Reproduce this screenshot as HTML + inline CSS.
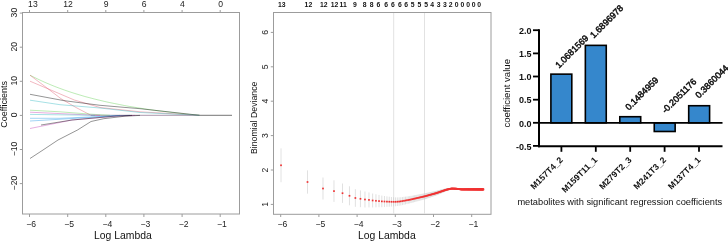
<!DOCTYPE html>
<html><head><meta charset="utf-8"><style>
html,body{margin:0;padding:0;background:#fff;width:728px;height:241px;overflow:hidden}
svg{display:block;will-change:transform}
text{font-family:"Liberation Sans",sans-serif}
</style></head><body>
<svg width="728" height="241" viewBox="0 0 728 241">
<rect width="728" height="241" fill="#fff"/>
<rect x="22.5" y="12.5" width="217" height="201.5" fill="none" stroke="#9c9c9c" stroke-width="1"/>
<line x1="29.5" y1="214" x2="29.5" y2="217" stroke="#9c9c9c" stroke-width="1"/>
<text x="31.1" y="226.6" font-family="Liberation Sans, sans-serif" font-size="8.6" text-anchor="middle" fill="#222">&#8722;6</text>
<line x1="67.7" y1="214" x2="67.7" y2="217" stroke="#9c9c9c" stroke-width="1"/>
<text x="69.2" y="226.6" font-family="Liberation Sans, sans-serif" font-size="8.6" text-anchor="middle" fill="#222">&#8722;5</text>
<line x1="105.8" y1="214" x2="105.8" y2="217" stroke="#9c9c9c" stroke-width="1"/>
<text x="107.4" y="226.6" font-family="Liberation Sans, sans-serif" font-size="8.6" text-anchor="middle" fill="#222">&#8722;4</text>
<line x1="143.9" y1="214" x2="143.9" y2="217" stroke="#9c9c9c" stroke-width="1"/>
<text x="145.5" y="226.6" font-family="Liberation Sans, sans-serif" font-size="8.6" text-anchor="middle" fill="#222">&#8722;3</text>
<line x1="182.1" y1="214" x2="182.1" y2="217" stroke="#9c9c9c" stroke-width="1"/>
<text x="183.7" y="226.6" font-family="Liberation Sans, sans-serif" font-size="8.6" text-anchor="middle" fill="#222">&#8722;2</text>
<line x1="220.2" y1="214" x2="220.2" y2="217" stroke="#9c9c9c" stroke-width="1"/>
<text x="221.8" y="226.6" font-family="Liberation Sans, sans-serif" font-size="8.6" text-anchor="middle" fill="#222">&#8722;1</text>
<line x1="29.5" y1="10" x2="29.5" y2="12.5" stroke="#9c9c9c" stroke-width="1"/>
<text x="32.9" y="6.8" font-family="Liberation Sans, sans-serif" font-size="8.6" text-anchor="middle" fill="#222">13</text>
<line x1="67.7" y1="10" x2="67.7" y2="12.5" stroke="#9c9c9c" stroke-width="1"/>
<text x="68.0" y="6.8" font-family="Liberation Sans, sans-serif" font-size="8.6" text-anchor="middle" fill="#222">12</text>
<line x1="105.8" y1="10" x2="105.8" y2="12.5" stroke="#9c9c9c" stroke-width="1"/>
<text x="106.1" y="6.8" font-family="Liberation Sans, sans-serif" font-size="8.6" text-anchor="middle" fill="#222">9</text>
<line x1="143.9" y1="10" x2="143.9" y2="12.5" stroke="#9c9c9c" stroke-width="1"/>
<text x="144.2" y="6.8" font-family="Liberation Sans, sans-serif" font-size="8.6" text-anchor="middle" fill="#222">6</text>
<line x1="182.1" y1="10" x2="182.1" y2="12.5" stroke="#9c9c9c" stroke-width="1"/>
<text x="182.4" y="6.8" font-family="Liberation Sans, sans-serif" font-size="8.6" text-anchor="middle" fill="#222">4</text>
<line x1="220.2" y1="10" x2="220.2" y2="12.5" stroke="#9c9c9c" stroke-width="1"/>
<text x="220.6" y="6.8" font-family="Liberation Sans, sans-serif" font-size="8.6" text-anchor="middle" fill="#222">0</text>
<line x1="19.8" y1="13.1" x2="22.5" y2="13.1" stroke="#9c9c9c" stroke-width="1"/>
<text transform="translate(17.0 12.6) rotate(-90)" font-family="Liberation Sans, sans-serif" font-size="8.6" text-anchor="middle" fill="#222">30</text>
<line x1="19.8" y1="47.2" x2="22.5" y2="47.2" stroke="#9c9c9c" stroke-width="1"/>
<text transform="translate(17.0 46.7) rotate(-90)" font-family="Liberation Sans, sans-serif" font-size="8.6" text-anchor="middle" fill="#222">20</text>
<line x1="19.8" y1="81.3" x2="22.5" y2="81.3" stroke="#9c9c9c" stroke-width="1"/>
<text transform="translate(17.0 80.8) rotate(-90)" font-family="Liberation Sans, sans-serif" font-size="8.6" text-anchor="middle" fill="#222">10</text>
<line x1="19.8" y1="115.4" x2="22.5" y2="115.4" stroke="#9c9c9c" stroke-width="1"/>
<text transform="translate(17.0 114.9) rotate(-90)" font-family="Liberation Sans, sans-serif" font-size="8.6" text-anchor="middle" fill="#222">0</text>
<line x1="19.8" y1="149.5" x2="22.5" y2="149.5" stroke="#9c9c9c" stroke-width="1"/>
<text transform="translate(17.0 149.0) rotate(-90)" font-family="Liberation Sans, sans-serif" font-size="8.6" text-anchor="middle" fill="#222">&#8722;10</text>
<line x1="19.8" y1="183.6" x2="22.5" y2="183.6" stroke="#9c9c9c" stroke-width="1"/>
<text transform="translate(17.0 183.1) rotate(-90)" font-family="Liberation Sans, sans-serif" font-size="8.6" text-anchor="middle" fill="#222">&#8722;20</text>
<text transform="translate(7.2 104.4) rotate(-90) scale(0.92 1)" font-family="Liberation Sans, sans-serif" font-size="9.8" text-anchor="middle" fill="#111">Coefficients</text>
<text x="122.85" y="238.6" font-family="Liberation Sans, sans-serif" font-size="10.4" text-anchor="middle" fill="#111">Log Lambda</text>
<polyline points="91.0,115.3 199.6,115.3" fill="none" stroke="#8a6a8a" stroke-width="0.7" stroke-linejoin="round"/>
<polyline points="30.0,75.2 35.0,77.7 40.0,80.1 45.0,82.4 50.0,84.5 54.9,86.5 59.9,88.4 64.9,90.2 69.9,91.9 74.9,93.5 79.9,95.0 84.9,96.5 89.9,97.8 94.8,99.1 99.8,100.3 104.8,101.5 109.8,102.6 114.8,103.6 119.8,104.6 124.8,105.6 129.8,106.5 134.8,107.3 139.7,108.1 144.7,108.9 149.7,109.6 154.7,110.3 159.7,111.0 164.7,111.6 169.7,112.2 174.7,112.8 179.6,113.3 184.6,113.9 189.6,114.4 194.6,114.8 199.6,115.3" fill="none" stroke="#61D04F" stroke-width="0.42" stroke-linejoin="round"/>
<polyline points="30.0,75.2 45.0,86.5 61.0,98.7 76.0,107.5 91.0,115.3" fill="none" stroke="#DF536B" stroke-width="0.42" stroke-linejoin="round"/>
<polyline points="30.0,81.2 52.0,90.5 74.3,100.0 100.0,107.5 140.0,111.8 199.6,115.3" fill="none" stroke="#DF536B" stroke-width="0.42" stroke-linejoin="round"/>
<polyline points="30.0,94.3 63.7,100.6 100.0,105.3 140.0,108.7 170.0,112.0 199.6,115.3" fill="none" stroke="#000000" stroke-width="0.42" stroke-linejoin="round"/>
<polyline points="30.0,100.2 60.0,104.7 100.0,108.0 140.0,112.5 199.6,115.3" fill="none" stroke="#2cb8c0" stroke-width="0.42" stroke-linejoin="round"/>
<polyline points="30.0,110.2 60.0,111.8 91.0,114.2 110.0,115.3" fill="none" stroke="#61D04F" stroke-width="0.42" stroke-linejoin="round"/>
<polyline points="30.0,112.2 90.0,115.0 100.0,115.3" fill="none" stroke="#c23cb4" stroke-width="0.42" stroke-linejoin="round"/>
<polyline points="30.0,114.4 95.0,115.3" fill="none" stroke="#2cb8c0" stroke-width="0.42" stroke-linejoin="round"/>
<polyline points="30.0,118.3 60.0,118.3 116.0,115.8 130.0,115.3" fill="none" stroke="#2297E6" stroke-width="0.42" stroke-linejoin="round"/>
<polyline points="30.0,121.0 90.0,117.5 120.0,115.4" fill="none" stroke="#2297E6" stroke-width="0.42" stroke-linejoin="round"/>
<polyline points="30.0,128.5 72.0,120.0 116.0,116.2 135.0,115.4" fill="none" stroke="#c23cb4" stroke-width="0.42" stroke-linejoin="round"/>
<polyline points="41.0,125.0 72.0,120.0 116.0,116.0 132.0,115.4" fill="none" stroke="#000000" stroke-width="0.42" stroke-linejoin="round"/>
<polyline points="30.0,158.5 43.0,150.0 58.0,140.0 77.5,130.0 91.0,121.5 103.7,118.7 125.0,116.2 140.0,115.4" fill="none" stroke="#000000" stroke-width="0.42" stroke-linejoin="round"/>
<line x1="199.6" y1="115.3" x2="232" y2="115.3" stroke="#666" stroke-width="0.9"/>
<rect x="273.5" y="12.5" width="217.5" height="201.8" fill="none" stroke="#9c9c9c" stroke-width="1"/>
<line x1="280.7" y1="214.3" x2="280.7" y2="217" stroke="#9c9c9c" stroke-width="1"/>
<text x="282.3" y="227.3" font-family="Liberation Sans, sans-serif" font-size="8.6" text-anchor="middle" fill="#222">&#8722;6</text>
<line x1="318.9" y1="214.3" x2="318.9" y2="217" stroke="#9c9c9c" stroke-width="1"/>
<text x="320.5" y="227.3" font-family="Liberation Sans, sans-serif" font-size="8.6" text-anchor="middle" fill="#222">&#8722;5</text>
<line x1="357.1" y1="214.3" x2="357.1" y2="217" stroke="#9c9c9c" stroke-width="1"/>
<text x="358.7" y="227.3" font-family="Liberation Sans, sans-serif" font-size="8.6" text-anchor="middle" fill="#222">&#8722;4</text>
<line x1="395.3" y1="214.3" x2="395.3" y2="217" stroke="#9c9c9c" stroke-width="1"/>
<text x="396.9" y="227.3" font-family="Liberation Sans, sans-serif" font-size="8.6" text-anchor="middle" fill="#222">&#8722;3</text>
<line x1="433.5" y1="214.3" x2="433.5" y2="217" stroke="#9c9c9c" stroke-width="1"/>
<text x="435.1" y="227.3" font-family="Liberation Sans, sans-serif" font-size="8.6" text-anchor="middle" fill="#222">&#8722;2</text>
<line x1="471.7" y1="214.3" x2="471.7" y2="217" stroke="#9c9c9c" stroke-width="1"/>
<text x="473.3" y="227.3" font-family="Liberation Sans, sans-serif" font-size="8.6" text-anchor="middle" fill="#222">&#8722;1</text>
<line x1="270.8" y1="204.4" x2="273.5" y2="204.4" stroke="#9c9c9c" stroke-width="1"/>
<text transform="translate(268.3 204.4) rotate(-90)" font-family="Liberation Sans, sans-serif" font-size="8.6" text-anchor="middle" fill="#222">1</text>
<line x1="270.8" y1="170.0" x2="273.5" y2="170.0" stroke="#9c9c9c" stroke-width="1"/>
<text transform="translate(268.3 170.0) rotate(-90)" font-family="Liberation Sans, sans-serif" font-size="8.6" text-anchor="middle" fill="#222">2</text>
<line x1="270.8" y1="135.6" x2="273.5" y2="135.6" stroke="#9c9c9c" stroke-width="1"/>
<text transform="translate(268.3 135.6) rotate(-90)" font-family="Liberation Sans, sans-serif" font-size="8.6" text-anchor="middle" fill="#222">3</text>
<line x1="270.8" y1="101.2" x2="273.5" y2="101.2" stroke="#9c9c9c" stroke-width="1"/>
<text transform="translate(268.3 101.2) rotate(-90)" font-family="Liberation Sans, sans-serif" font-size="8.6" text-anchor="middle" fill="#222">4</text>
<line x1="270.8" y1="66.8" x2="273.5" y2="66.8" stroke="#9c9c9c" stroke-width="1"/>
<text transform="translate(268.3 66.8) rotate(-90)" font-family="Liberation Sans, sans-serif" font-size="8.6" text-anchor="middle" fill="#222">5</text>
<line x1="270.8" y1="32.4" x2="273.5" y2="32.4" stroke="#9c9c9c" stroke-width="1"/>
<text transform="translate(268.3 32.4) rotate(-90)" font-family="Liberation Sans, sans-serif" font-size="8.6" text-anchor="middle" fill="#222">6</text>
<text transform="translate(256.6 117.8) rotate(-90)" font-family="Liberation Sans, sans-serif" font-size="8.75" text-anchor="middle" fill="#111">Binomial Deviance</text>
<text x="386.8" y="238.5" font-family="Liberation Sans, sans-serif" font-size="10.4" text-anchor="middle" fill="#111">Log Lambda</text>
<text x="281.8" y="7.0" font-family="Liberation Sans, sans-serif" font-size="6.8" font-weight="bold" text-anchor="middle" fill="#111">13</text>
<text x="308.4" y="7.0" font-family="Liberation Sans, sans-serif" font-size="6.8" font-weight="bold" text-anchor="middle" fill="#111">12</text>
<text x="323.8" y="7.0" font-family="Liberation Sans, sans-serif" font-size="6.8" font-weight="bold" text-anchor="middle" fill="#111">12</text>
<text x="334.6" y="7.0" font-family="Liberation Sans, sans-serif" font-size="6.8" font-weight="bold" text-anchor="middle" fill="#111">12</text>
<text x="343.2" y="7.0" font-family="Liberation Sans, sans-serif" font-size="6.8" font-weight="bold" text-anchor="middle" fill="#111">11</text>
<text x="354.8" y="7.0" font-family="Liberation Sans, sans-serif" font-size="6.8" font-weight="bold" text-anchor="middle" fill="#111">9</text>
<text x="364.6" y="7.0" font-family="Liberation Sans, sans-serif" font-size="6.8" font-weight="bold" text-anchor="middle" fill="#111">8</text>
<text x="371.6" y="7.0" font-family="Liberation Sans, sans-serif" font-size="6.8" font-weight="bold" text-anchor="middle" fill="#111">8</text>
<text x="378.5" y="7.0" font-family="Liberation Sans, sans-serif" font-size="6.8" font-weight="bold" text-anchor="middle" fill="#111">6</text>
<text x="386.2" y="7.0" font-family="Liberation Sans, sans-serif" font-size="6.8" font-weight="bold" text-anchor="middle" fill="#111">6</text>
<text x="392.8" y="7.0" font-family="Liberation Sans, sans-serif" font-size="6.8" font-weight="bold" text-anchor="middle" fill="#111">6</text>
<text x="399.8" y="7.0" font-family="Liberation Sans, sans-serif" font-size="6.8" font-weight="bold" text-anchor="middle" fill="#111">6</text>
<text x="406.1" y="7.0" font-family="Liberation Sans, sans-serif" font-size="6.8" font-weight="bold" text-anchor="middle" fill="#111">6</text>
<text x="412.7" y="7.0" font-family="Liberation Sans, sans-serif" font-size="6.8" font-weight="bold" text-anchor="middle" fill="#111">5</text>
<text x="419.4" y="7.0" font-family="Liberation Sans, sans-serif" font-size="6.8" font-weight="bold" text-anchor="middle" fill="#111">5</text>
<text x="426.1" y="7.0" font-family="Liberation Sans, sans-serif" font-size="6.8" font-weight="bold" text-anchor="middle" fill="#111">5</text>
<text x="432.2" y="7.0" font-family="Liberation Sans, sans-serif" font-size="6.8" font-weight="bold" text-anchor="middle" fill="#111">4</text>
<text x="438.6" y="7.0" font-family="Liberation Sans, sans-serif" font-size="6.8" font-weight="bold" text-anchor="middle" fill="#111">3</text>
<text x="444.8" y="7.0" font-family="Liberation Sans, sans-serif" font-size="6.8" font-weight="bold" text-anchor="middle" fill="#111">3</text>
<text x="450.6" y="7.0" font-family="Liberation Sans, sans-serif" font-size="6.8" font-weight="bold" text-anchor="middle" fill="#111">2</text>
<text x="456.7" y="7.0" font-family="Liberation Sans, sans-serif" font-size="6.8" font-weight="bold" text-anchor="middle" fill="#111">0</text>
<text x="462.4" y="7.0" font-family="Liberation Sans, sans-serif" font-size="6.8" font-weight="bold" text-anchor="middle" fill="#111">0</text>
<text x="468.2" y="7.0" font-family="Liberation Sans, sans-serif" font-size="6.8" font-weight="bold" text-anchor="middle" fill="#111">0</text>
<text x="473.6" y="7.0" font-family="Liberation Sans, sans-serif" font-size="6.8" font-weight="bold" text-anchor="middle" fill="#111">0</text>
<text x="479.1" y="7.0" font-family="Liberation Sans, sans-serif" font-size="6.8" font-weight="bold" text-anchor="middle" fill="#111">0</text>
<line x1="393.7" y1="13" x2="393.7" y2="214" stroke="#e2e2e2" stroke-width="1"/>
<line x1="424.5" y1="13" x2="424.5" y2="214" stroke="#e2e2e2" stroke-width="1"/>
<line x1="281.03" y1="148.40" x2="281.03" y2="182.20" stroke="#cdcdcd" stroke-width="0.6"/>
<line x1="307.50" y1="170.35" x2="307.50" y2="193.67" stroke="#cdcdcd" stroke-width="0.6"/>
<line x1="322.99" y1="177.51" x2="322.99" y2="199.52" stroke="#cdcdcd" stroke-width="0.6"/>
<line x1="333.98" y1="180.30" x2="333.98" y2="201.90" stroke="#cdcdcd" stroke-width="0.6"/>
<line x1="342.51" y1="183.50" x2="342.51" y2="202.90" stroke="#cdcdcd" stroke-width="0.6"/>
<line x1="349.47" y1="186.29" x2="349.47" y2="205.29" stroke="#cdcdcd" stroke-width="0.6"/>
<line x1="355.36" y1="189.18" x2="355.36" y2="206.79" stroke="#cdcdcd" stroke-width="0.6"/>
<line x1="360.46" y1="190.42" x2="360.46" y2="207.17" stroke="#cdcdcd" stroke-width="0.6"/>
<line x1="364.96" y1="191.49" x2="364.96" y2="207.50" stroke="#cdcdcd" stroke-width="0.6"/>
<line x1="368.98" y1="192.43" x2="368.98" y2="207.37" stroke="#cdcdcd" stroke-width="0.6"/>
<line x1="372.63" y1="193.50" x2="372.63" y2="207.47" stroke="#cdcdcd" stroke-width="0.6"/>
<line x1="375.95" y1="194.25" x2="375.95" y2="207.33" stroke="#cdcdcd" stroke-width="0.6"/>
<line x1="379.01" y1="194.95" x2="379.01" y2="207.21" stroke="#cdcdcd" stroke-width="0.6"/>
<line x1="381.84" y1="195.58" x2="381.84" y2="207.19" stroke="#cdcdcd" stroke-width="0.6"/>
<line x1="384.47" y1="196.00" x2="384.47" y2="207.04" stroke="#cdcdcd" stroke-width="0.6"/>
<line x1="386.94" y1="196.37" x2="386.94" y2="206.89" stroke="#cdcdcd" stroke-width="0.6"/>
<line x1="389.25" y1="196.70" x2="389.25" y2="206.72" stroke="#cdcdcd" stroke-width="0.6"/>
<line x1="391.44" y1="197.01" x2="391.44" y2="206.56" stroke="#cdcdcd" stroke-width="0.6"/>
<line x1="393.50" y1="197.25" x2="393.50" y2="206.35" stroke="#cdcdcd" stroke-width="0.6"/>
<line x1="395.46" y1="197.38" x2="395.46" y2="206.22" stroke="#cdcdcd" stroke-width="0.6"/>
<line x1="397.33" y1="197.39" x2="397.33" y2="206.01" stroke="#cdcdcd" stroke-width="0.6"/>
<line x1="399.10" y1="197.35" x2="399.10" y2="205.78" stroke="#cdcdcd" stroke-width="0.6"/>
<line x1="400.80" y1="197.24" x2="400.80" y2="205.47" stroke="#cdcdcd" stroke-width="0.6"/>
<line x1="402.43" y1="197.04" x2="402.43" y2="205.09" stroke="#cdcdcd" stroke-width="0.6"/>
<line x1="403.99" y1="196.84" x2="403.99" y2="204.72" stroke="#cdcdcd" stroke-width="0.6"/>
<line x1="405.49" y1="196.66" x2="405.49" y2="204.37" stroke="#cdcdcd" stroke-width="0.6"/>
<line x1="406.93" y1="196.48" x2="406.93" y2="204.03" stroke="#cdcdcd" stroke-width="0.6"/>
<line x1="408.32" y1="196.31" x2="408.32" y2="203.70" stroke="#cdcdcd" stroke-width="0.6"/>
<line x1="409.66" y1="196.14" x2="409.66" y2="203.38" stroke="#cdcdcd" stroke-width="0.6"/>
<line x1="410.95" y1="195.92" x2="410.95" y2="203.04" stroke="#cdcdcd" stroke-width="0.6"/>
<line x1="412.20" y1="195.68" x2="412.20" y2="202.71" stroke="#cdcdcd" stroke-width="0.6"/>
<line x1="413.42" y1="195.45" x2="413.42" y2="202.38" stroke="#cdcdcd" stroke-width="0.6"/>
<line x1="414.59" y1="195.23" x2="414.59" y2="202.06" stroke="#cdcdcd" stroke-width="0.6"/>
<line x1="415.73" y1="195.01" x2="415.73" y2="201.75" stroke="#cdcdcd" stroke-width="0.6"/>
<line x1="416.84" y1="194.80" x2="416.84" y2="201.45" stroke="#cdcdcd" stroke-width="0.6"/>
<line x1="417.92" y1="194.60" x2="417.92" y2="201.16" stroke="#cdcdcd" stroke-width="0.6"/>
<line x1="418.96" y1="194.40" x2="418.96" y2="200.88" stroke="#cdcdcd" stroke-width="0.6"/>
<line x1="419.98" y1="194.21" x2="419.98" y2="200.61" stroke="#cdcdcd" stroke-width="0.6"/>
<line x1="420.97" y1="194.02" x2="420.97" y2="200.34" stroke="#cdcdcd" stroke-width="0.6"/>
<line x1="421.94" y1="193.83" x2="421.94" y2="200.08" stroke="#cdcdcd" stroke-width="0.6"/>
<line x1="422.88" y1="193.66" x2="422.88" y2="199.82" stroke="#cdcdcd" stroke-width="0.6"/>
<line x1="423.81" y1="193.48" x2="423.81" y2="199.58" stroke="#cdcdcd" stroke-width="0.6"/>
<line x1="424.70" y1="193.31" x2="424.70" y2="199.33" stroke="#cdcdcd" stroke-width="0.6"/>
<line x1="425.58" y1="193.12" x2="425.58" y2="199.05" stroke="#cdcdcd" stroke-width="0.6"/>
<line x1="426.44" y1="192.94" x2="426.44" y2="198.75" stroke="#cdcdcd" stroke-width="0.6"/>
<line x1="427.28" y1="192.77" x2="427.28" y2="198.46" stroke="#cdcdcd" stroke-width="0.6"/>
<line x1="428.10" y1="192.60" x2="428.10" y2="198.18" stroke="#cdcdcd" stroke-width="0.6"/>
<line x1="428.91" y1="192.43" x2="428.91" y2="197.91" stroke="#cdcdcd" stroke-width="0.6"/>
<line x1="429.69" y1="192.26" x2="429.69" y2="197.64" stroke="#cdcdcd" stroke-width="0.6"/>
<line x1="430.47" y1="192.10" x2="430.47" y2="197.37" stroke="#cdcdcd" stroke-width="0.6"/>
<line x1="431.22" y1="191.94" x2="431.22" y2="197.11" stroke="#cdcdcd" stroke-width="0.6"/>
<line x1="431.96" y1="191.79" x2="431.96" y2="196.86" stroke="#cdcdcd" stroke-width="0.6"/>
<line x1="432.69" y1="191.64" x2="432.69" y2="196.61" stroke="#cdcdcd" stroke-width="0.6"/>
<line x1="433.41" y1="191.49" x2="433.41" y2="196.37" stroke="#cdcdcd" stroke-width="0.6"/>
<line x1="434.11" y1="191.34" x2="434.11" y2="196.13" stroke="#cdcdcd" stroke-width="0.6"/>
<line x1="434.79" y1="191.20" x2="434.79" y2="195.89" stroke="#cdcdcd" stroke-width="0.6"/>
<line x1="435.47" y1="191.05" x2="435.47" y2="195.66" stroke="#cdcdcd" stroke-width="0.6"/>
<line x1="436.13" y1="190.92" x2="436.13" y2="195.43" stroke="#cdcdcd" stroke-width="0.6"/>
<line x1="436.79" y1="190.75" x2="436.79" y2="195.18" stroke="#cdcdcd" stroke-width="0.6"/>
<line x1="437.43" y1="190.58" x2="437.43" y2="194.92" stroke="#cdcdcd" stroke-width="0.6"/>
<line x1="438.06" y1="190.41" x2="438.06" y2="194.66" stroke="#cdcdcd" stroke-width="0.6"/>
<line x1="438.68" y1="190.24" x2="438.68" y2="194.41" stroke="#cdcdcd" stroke-width="0.6"/>
<line x1="439.29" y1="190.07" x2="439.29" y2="194.16" stroke="#cdcdcd" stroke-width="0.6"/>
<line x1="439.90" y1="189.90" x2="439.90" y2="193.92" stroke="#cdcdcd" stroke-width="0.6"/>
<line x1="440.49" y1="189.76" x2="440.49" y2="193.66" stroke="#cdcdcd" stroke-width="0.6"/>
<line x1="441.07" y1="189.62" x2="441.07" y2="193.40" stroke="#cdcdcd" stroke-width="0.6"/>
<line x1="441.65" y1="189.48" x2="441.65" y2="193.15" stroke="#cdcdcd" stroke-width="0.6"/>
<line x1="442.21" y1="189.35" x2="442.21" y2="192.90" stroke="#cdcdcd" stroke-width="0.6"/>
<line x1="442.77" y1="189.21" x2="442.77" y2="192.66" stroke="#cdcdcd" stroke-width="0.6"/>
<line x1="443.32" y1="189.08" x2="443.32" y2="192.42" stroke="#cdcdcd" stroke-width="0.6"/>
<line x1="443.86" y1="188.95" x2="443.86" y2="192.18" stroke="#cdcdcd" stroke-width="0.6"/>
<line x1="444.39" y1="188.82" x2="444.39" y2="191.94" stroke="#cdcdcd" stroke-width="0.6"/>
<line x1="444.92" y1="188.69" x2="444.92" y2="191.71" stroke="#cdcdcd" stroke-width="0.6"/>
<line x1="445.44" y1="188.57" x2="445.44" y2="191.48" stroke="#cdcdcd" stroke-width="0.6"/>
<line x1="445.95" y1="188.45" x2="445.95" y2="191.26" stroke="#cdcdcd" stroke-width="0.6"/>
<line x1="446.46" y1="188.33" x2="446.46" y2="191.04" stroke="#cdcdcd" stroke-width="0.6"/>
<line x1="446.96" y1="188.27" x2="446.96" y2="190.88" stroke="#cdcdcd" stroke-width="0.6"/>
<line x1="447.45" y1="188.21" x2="447.45" y2="190.72" stroke="#cdcdcd" stroke-width="0.6"/>
<line x1="447.94" y1="188.16" x2="447.94" y2="190.57" stroke="#cdcdcd" stroke-width="0.6"/>
<line x1="448.42" y1="188.10" x2="448.42" y2="190.41" stroke="#cdcdcd" stroke-width="0.6"/>
<line x1="448.89" y1="188.04" x2="448.89" y2="190.26" stroke="#cdcdcd" stroke-width="0.6"/>
<line x1="449.36" y1="187.98" x2="449.36" y2="190.11" stroke="#cdcdcd" stroke-width="0.6"/>
<line x1="449.83" y1="187.93" x2="449.83" y2="189.96" stroke="#cdcdcd" stroke-width="0.6"/>
<line x1="450.28" y1="187.87" x2="450.28" y2="189.83" stroke="#cdcdcd" stroke-width="0.6"/>
<line x1="450.74" y1="187.80" x2="450.74" y2="189.69" stroke="#cdcdcd" stroke-width="0.6"/>
<line x1="451.18" y1="187.73" x2="451.18" y2="189.57" stroke="#cdcdcd" stroke-width="0.6"/>
<line x1="451.62" y1="187.72" x2="451.62" y2="189.49" stroke="#cdcdcd" stroke-width="0.6"/>
<line x1="452.06" y1="187.76" x2="452.06" y2="189.47" stroke="#cdcdcd" stroke-width="0.6"/>
<line x1="452.49" y1="187.80" x2="452.49" y2="189.45" stroke="#cdcdcd" stroke-width="0.6"/>
<line x1="452.92" y1="187.84" x2="452.92" y2="189.43" stroke="#cdcdcd" stroke-width="0.6"/>
<line x1="453.34" y1="187.88" x2="453.34" y2="189.41" stroke="#cdcdcd" stroke-width="0.6"/>
<line x1="453.76" y1="187.91" x2="453.76" y2="189.39" stroke="#cdcdcd" stroke-width="0.6"/>
<line x1="454.17" y1="187.95" x2="454.17" y2="189.37" stroke="#cdcdcd" stroke-width="0.6"/>
<line x1="454.58" y1="187.99" x2="454.58" y2="189.35" stroke="#cdcdcd" stroke-width="0.6"/>
<line x1="454.98" y1="188.03" x2="454.98" y2="189.33" stroke="#cdcdcd" stroke-width="0.6"/>
<line x1="455.38" y1="188.06" x2="455.38" y2="189.31" stroke="#cdcdcd" stroke-width="0.6"/>
<line x1="455.78" y1="188.10" x2="455.78" y2="189.29" stroke="#cdcdcd" stroke-width="0.6"/>
<line x1="456.17" y1="188.15" x2="456.17" y2="189.29" stroke="#cdcdcd" stroke-width="0.6"/>
<line x1="456.56" y1="188.23" x2="456.56" y2="189.31" stroke="#cdcdcd" stroke-width="0.6"/>
<line x1="456.94" y1="188.31" x2="456.94" y2="189.34" stroke="#cdcdcd" stroke-width="0.6"/>
<line x1="457.32" y1="188.39" x2="457.32" y2="189.36" stroke="#cdcdcd" stroke-width="0.6"/>
<line x1="457.70" y1="188.46" x2="457.70" y2="189.39" stroke="#cdcdcd" stroke-width="0.6"/>
<line x1="458.07" y1="188.54" x2="458.07" y2="189.41" stroke="#cdcdcd" stroke-width="0.6"/>
<line x1="458.44" y1="188.61" x2="458.44" y2="189.43" stroke="#cdcdcd" stroke-width="0.6"/>
<line x1="458.81" y1="188.69" x2="458.81" y2="189.45" stroke="#cdcdcd" stroke-width="0.6"/>
<line x1="459.17" y1="188.76" x2="459.17" y2="189.48" stroke="#cdcdcd" stroke-width="0.6"/>
<line x1="459.53" y1="188.83" x2="459.53" y2="189.50" stroke="#cdcdcd" stroke-width="0.6"/>
<line x1="459.88" y1="188.90" x2="459.88" y2="189.52" stroke="#cdcdcd" stroke-width="0.6"/>
<line x1="460.24" y1="188.96" x2="460.24" y2="189.56" stroke="#cdcdcd" stroke-width="0.6"/>
<line x1="460.58" y1="189.01" x2="460.58" y2="189.60" stroke="#cdcdcd" stroke-width="0.6"/>
<line x1="460.93" y1="189.06" x2="460.93" y2="189.64" stroke="#cdcdcd" stroke-width="0.6"/>
<line x1="461.27" y1="189.11" x2="461.27" y2="189.69" stroke="#cdcdcd" stroke-width="0.6"/>
<line x1="461.61" y1="189.11" x2="461.61" y2="189.69" stroke="#cdcdcd" stroke-width="0.6"/>
<line x1="461.95" y1="189.12" x2="461.95" y2="189.68" stroke="#cdcdcd" stroke-width="0.6"/>
<line x1="462.28" y1="189.12" x2="462.28" y2="189.68" stroke="#cdcdcd" stroke-width="0.6"/>
<line x1="462.61" y1="189.12" x2="462.61" y2="189.68" stroke="#cdcdcd" stroke-width="0.6"/>
<line x1="462.94" y1="189.13" x2="462.94" y2="189.67" stroke="#cdcdcd" stroke-width="0.6"/>
<line x1="463.27" y1="189.13" x2="463.27" y2="189.67" stroke="#cdcdcd" stroke-width="0.6"/>
<line x1="463.59" y1="189.13" x2="463.59" y2="189.67" stroke="#cdcdcd" stroke-width="0.6"/>
<line x1="463.91" y1="189.13" x2="463.91" y2="189.67" stroke="#cdcdcd" stroke-width="0.6"/>
<line x1="464.23" y1="189.14" x2="464.23" y2="189.66" stroke="#cdcdcd" stroke-width="0.6"/>
<line x1="464.54" y1="189.14" x2="464.54" y2="189.66" stroke="#cdcdcd" stroke-width="0.6"/>
<line x1="464.85" y1="189.14" x2="464.85" y2="189.66" stroke="#cdcdcd" stroke-width="0.6"/>
<line x1="465.16" y1="189.14" x2="465.16" y2="189.66" stroke="#cdcdcd" stroke-width="0.6"/>
<line x1="465.47" y1="189.15" x2="465.47" y2="189.65" stroke="#cdcdcd" stroke-width="0.6"/>
<line x1="465.77" y1="189.15" x2="465.77" y2="189.65" stroke="#cdcdcd" stroke-width="0.6"/>
<line x1="466.07" y1="189.15" x2="466.07" y2="189.65" stroke="#cdcdcd" stroke-width="0.6"/>
<line x1="466.37" y1="189.16" x2="466.37" y2="189.64" stroke="#cdcdcd" stroke-width="0.6"/>
<line x1="466.67" y1="189.16" x2="466.67" y2="189.64" stroke="#cdcdcd" stroke-width="0.6"/>
<line x1="466.97" y1="189.16" x2="466.97" y2="189.64" stroke="#cdcdcd" stroke-width="0.6"/>
<line x1="467.26" y1="189.16" x2="467.26" y2="189.64" stroke="#cdcdcd" stroke-width="0.6"/>
<line x1="467.55" y1="189.17" x2="467.55" y2="189.63" stroke="#cdcdcd" stroke-width="0.6"/>
<line x1="467.84" y1="189.17" x2="467.84" y2="189.63" stroke="#cdcdcd" stroke-width="0.6"/>
<line x1="468.12" y1="189.17" x2="468.12" y2="189.63" stroke="#cdcdcd" stroke-width="0.6"/>
<line x1="468.41" y1="189.17" x2="468.41" y2="189.63" stroke="#cdcdcd" stroke-width="0.6"/>
<line x1="468.69" y1="189.18" x2="468.69" y2="189.62" stroke="#cdcdcd" stroke-width="0.6"/>
<line x1="468.97" y1="189.18" x2="468.97" y2="189.62" stroke="#cdcdcd" stroke-width="0.6"/>
<line x1="469.25" y1="189.18" x2="469.25" y2="189.62" stroke="#cdcdcd" stroke-width="0.6"/>
<line x1="469.52" y1="189.18" x2="469.52" y2="189.62" stroke="#cdcdcd" stroke-width="0.6"/>
<line x1="469.80" y1="189.19" x2="469.80" y2="189.61" stroke="#cdcdcd" stroke-width="0.6"/>
<line x1="470.07" y1="189.19" x2="470.07" y2="189.61" stroke="#cdcdcd" stroke-width="0.6"/>
<line x1="470.34" y1="189.19" x2="470.34" y2="189.61" stroke="#cdcdcd" stroke-width="0.6"/>
<line x1="470.61" y1="189.19" x2="470.61" y2="189.61" stroke="#cdcdcd" stroke-width="0.6"/>
<line x1="470.87" y1="189.19" x2="470.87" y2="189.61" stroke="#cdcdcd" stroke-width="0.6"/>
<line x1="471.14" y1="189.20" x2="471.14" y2="189.60" stroke="#cdcdcd" stroke-width="0.6"/>
<line x1="471.40" y1="189.20" x2="471.40" y2="189.60" stroke="#cdcdcd" stroke-width="0.6"/>
<line x1="471.66" y1="189.20" x2="471.66" y2="189.60" stroke="#cdcdcd" stroke-width="0.6"/>
<line x1="471.92" y1="189.20" x2="471.92" y2="189.60" stroke="#cdcdcd" stroke-width="0.6"/>
<line x1="472.18" y1="189.21" x2="472.18" y2="189.59" stroke="#cdcdcd" stroke-width="0.6"/>
<line x1="472.43" y1="189.21" x2="472.43" y2="189.59" stroke="#cdcdcd" stroke-width="0.6"/>
<line x1="472.69" y1="189.21" x2="472.69" y2="189.59" stroke="#cdcdcd" stroke-width="0.6"/>
<line x1="472.94" y1="189.21" x2="472.94" y2="189.59" stroke="#cdcdcd" stroke-width="0.6"/>
<line x1="473.19" y1="189.21" x2="473.19" y2="189.59" stroke="#cdcdcd" stroke-width="0.6"/>
<line x1="473.44" y1="189.22" x2="473.44" y2="189.58" stroke="#cdcdcd" stroke-width="0.6"/>
<line x1="473.68" y1="189.22" x2="473.68" y2="189.58" stroke="#cdcdcd" stroke-width="0.6"/>
<line x1="473.93" y1="189.22" x2="473.93" y2="189.58" stroke="#cdcdcd" stroke-width="0.6"/>
<line x1="474.17" y1="189.22" x2="474.17" y2="189.58" stroke="#cdcdcd" stroke-width="0.6"/>
<line x1="474.42" y1="189.23" x2="474.42" y2="189.57" stroke="#cdcdcd" stroke-width="0.6"/>
<line x1="474.66" y1="189.23" x2="474.66" y2="189.57" stroke="#cdcdcd" stroke-width="0.6"/>
<line x1="474.90" y1="189.23" x2="474.90" y2="189.57" stroke="#cdcdcd" stroke-width="0.6"/>
<line x1="475.14" y1="189.23" x2="475.14" y2="189.57" stroke="#cdcdcd" stroke-width="0.6"/>
<line x1="475.37" y1="189.23" x2="475.37" y2="189.57" stroke="#cdcdcd" stroke-width="0.6"/>
<line x1="475.61" y1="189.24" x2="475.61" y2="189.56" stroke="#cdcdcd" stroke-width="0.6"/>
<line x1="475.84" y1="189.24" x2="475.84" y2="189.56" stroke="#cdcdcd" stroke-width="0.6"/>
<line x1="476.07" y1="189.24" x2="476.07" y2="189.56" stroke="#cdcdcd" stroke-width="0.6"/>
<line x1="476.30" y1="189.24" x2="476.30" y2="189.56" stroke="#cdcdcd" stroke-width="0.6"/>
<line x1="476.53" y1="189.24" x2="476.53" y2="189.56" stroke="#cdcdcd" stroke-width="0.6"/>
<line x1="476.76" y1="189.25" x2="476.76" y2="189.55" stroke="#cdcdcd" stroke-width="0.6"/>
<line x1="476.99" y1="189.25" x2="476.99" y2="189.55" stroke="#cdcdcd" stroke-width="0.6"/>
<line x1="477.21" y1="189.25" x2="477.21" y2="189.55" stroke="#cdcdcd" stroke-width="0.6"/>
<line x1="477.44" y1="189.25" x2="477.44" y2="189.55" stroke="#cdcdcd" stroke-width="0.6"/>
<line x1="477.66" y1="189.25" x2="477.66" y2="189.55" stroke="#cdcdcd" stroke-width="0.6"/>
<line x1="477.88" y1="189.26" x2="477.88" y2="189.54" stroke="#cdcdcd" stroke-width="0.6"/>
<line x1="478.10" y1="189.26" x2="478.10" y2="189.54" stroke="#cdcdcd" stroke-width="0.6"/>
<line x1="478.32" y1="189.26" x2="478.32" y2="189.54" stroke="#cdcdcd" stroke-width="0.6"/>
<line x1="478.54" y1="189.26" x2="478.54" y2="189.54" stroke="#cdcdcd" stroke-width="0.6"/>
<line x1="478.75" y1="189.26" x2="478.75" y2="189.54" stroke="#cdcdcd" stroke-width="0.6"/>
<line x1="478.97" y1="189.26" x2="478.97" y2="189.54" stroke="#cdcdcd" stroke-width="0.6"/>
<line x1="479.18" y1="189.27" x2="479.18" y2="189.53" stroke="#cdcdcd" stroke-width="0.6"/>
<line x1="479.40" y1="189.27" x2="479.40" y2="189.53" stroke="#cdcdcd" stroke-width="0.6"/>
<line x1="479.61" y1="189.27" x2="479.61" y2="189.53" stroke="#cdcdcd" stroke-width="0.6"/>
<line x1="479.82" y1="189.27" x2="479.82" y2="189.53" stroke="#cdcdcd" stroke-width="0.6"/>
<line x1="480.03" y1="189.27" x2="480.03" y2="189.53" stroke="#cdcdcd" stroke-width="0.6"/>
<line x1="480.24" y1="189.28" x2="480.24" y2="189.52" stroke="#cdcdcd" stroke-width="0.6"/>
<line x1="480.44" y1="189.28" x2="480.44" y2="189.52" stroke="#cdcdcd" stroke-width="0.6"/>
<line x1="480.65" y1="189.28" x2="480.65" y2="189.52" stroke="#cdcdcd" stroke-width="0.6"/>
<line x1="480.85" y1="189.28" x2="480.85" y2="189.52" stroke="#cdcdcd" stroke-width="0.6"/>
<line x1="481.06" y1="189.28" x2="481.06" y2="189.52" stroke="#cdcdcd" stroke-width="0.6"/>
<line x1="481.26" y1="189.28" x2="481.26" y2="189.52" stroke="#cdcdcd" stroke-width="0.6"/>
<line x1="481.46" y1="189.29" x2="481.46" y2="189.51" stroke="#cdcdcd" stroke-width="0.6"/>
<line x1="481.66" y1="189.29" x2="481.66" y2="189.51" stroke="#cdcdcd" stroke-width="0.6"/>
<line x1="481.86" y1="189.29" x2="481.86" y2="189.51" stroke="#cdcdcd" stroke-width="0.6"/>
<line x1="482.06" y1="189.29" x2="482.06" y2="189.51" stroke="#cdcdcd" stroke-width="0.6"/>
<line x1="482.26" y1="189.29" x2="482.26" y2="189.51" stroke="#cdcdcd" stroke-width="0.6"/>
<line x1="482.45" y1="189.30" x2="482.45" y2="189.50" stroke="#cdcdcd" stroke-width="0.6"/>
<line x1="482.65" y1="189.30" x2="482.65" y2="189.50" stroke="#cdcdcd" stroke-width="0.6"/>
<line x1="482.84" y1="189.30" x2="482.84" y2="189.50" stroke="#cdcdcd" stroke-width="0.6"/>
<line x1="483.04" y1="189.30" x2="483.04" y2="189.50" stroke="#cdcdcd" stroke-width="0.6"/>
<line x1="483.23" y1="189.30" x2="483.23" y2="189.50" stroke="#cdcdcd" stroke-width="0.6"/>
<line x1="483.42" y1="189.30" x2="483.42" y2="189.50" stroke="#cdcdcd" stroke-width="0.6"/>
<rect x="280.18" y="164.45" width="1.7" height="1.7" fill="#f03232"/>
<rect x="306.65" y="181.16" width="1.7" height="1.7" fill="#f03232"/>
<rect x="322.14" y="187.66" width="1.7" height="1.7" fill="#f03232"/>
<rect x="333.13" y="190.25" width="1.7" height="1.7" fill="#f03232"/>
<rect x="341.66" y="192.35" width="1.7" height="1.7" fill="#f03232"/>
<rect x="348.62" y="194.94" width="1.7" height="1.7" fill="#f03232"/>
<rect x="354.51" y="197.14" width="1.7" height="1.7" fill="#f03232"/>
<rect x="359.61" y="197.94" width="1.7" height="1.7" fill="#f03232"/>
<rect x="364.11" y="198.64" width="1.7" height="1.7" fill="#f03232"/>
<rect x="368.13" y="199.05" width="1.7" height="1.7" fill="#f03232"/>
<rect x="371.78" y="199.64" width="1.7" height="1.7" fill="#f03232"/>
<rect x="375.10" y="199.94" width="1.7" height="1.7" fill="#f03232"/>
<rect x="378.16" y="200.23" width="1.7" height="1.7" fill="#f03232"/>
<rect x="380.99" y="200.53" width="1.7" height="1.7" fill="#f03232"/>
<rect x="383.62" y="200.67" width="1.7" height="1.7" fill="#f03232"/>
<rect x="386.09" y="200.78" width="1.7" height="1.7" fill="#f03232"/>
<rect x="388.40" y="200.86" width="1.7" height="1.7" fill="#f03232"/>
<rect x="390.59" y="200.93" width="1.7" height="1.7" fill="#f03232"/>
<rect x="392.65" y="200.95" width="1.7" height="1.7" fill="#f03232"/>
<rect x="394.61" y="200.95" width="1.7" height="1.7" fill="#f03232"/>
<rect x="396.48" y="200.85" width="1.7" height="1.7" fill="#f03232"/>
<rect x="398.25" y="200.72" width="1.7" height="1.7" fill="#f03232"/>
<rect x="399.95" y="200.51" width="1.7" height="1.7" fill="#f03232"/>
<rect x="401.58" y="200.21" width="1.7" height="1.7" fill="#f03232"/>
<rect x="403.14" y="199.93" width="1.7" height="1.7" fill="#f03232"/>
<rect x="404.64" y="199.66" width="1.7" height="1.7" fill="#f03232"/>
<rect x="406.08" y="199.40" width="1.7" height="1.7" fill="#f03232"/>
<rect x="407.47" y="199.15" width="1.7" height="1.7" fill="#f03232"/>
<rect x="408.81" y="198.91" width="1.7" height="1.7" fill="#f03232"/>
<rect x="410.10" y="198.63" width="1.7" height="1.7" fill="#f03232"/>
<rect x="411.35" y="198.34" width="1.7" height="1.7" fill="#f03232"/>
<rect x="412.57" y="198.06" width="1.7" height="1.7" fill="#f03232"/>
<rect x="413.74" y="197.79" width="1.7" height="1.7" fill="#f03232"/>
<rect x="414.88" y="197.53" width="1.7" height="1.7" fill="#f03232"/>
<rect x="415.99" y="197.28" width="1.7" height="1.7" fill="#f03232"/>
<rect x="417.07" y="197.03" width="1.7" height="1.7" fill="#f03232"/>
<rect x="418.11" y="196.79" width="1.7" height="1.7" fill="#f03232"/>
<rect x="419.13" y="196.56" width="1.7" height="1.7" fill="#f03232"/>
<rect x="420.12" y="196.33" width="1.7" height="1.7" fill="#f03232"/>
<rect x="421.09" y="196.11" width="1.7" height="1.7" fill="#f03232"/>
<rect x="422.03" y="195.89" width="1.7" height="1.7" fill="#f03232"/>
<rect x="422.96" y="195.68" width="1.7" height="1.7" fill="#f03232"/>
<rect x="423.85" y="195.47" width="1.7" height="1.7" fill="#f03232"/>
<rect x="424.73" y="195.23" width="1.7" height="1.7" fill="#f03232"/>
<rect x="425.59" y="195.00" width="1.7" height="1.7" fill="#f03232"/>
<rect x="426.43" y="194.77" width="1.7" height="1.7" fill="#f03232"/>
<rect x="427.25" y="194.54" width="1.7" height="1.7" fill="#f03232"/>
<rect x="428.06" y="194.32" width="1.7" height="1.7" fill="#f03232"/>
<rect x="428.84" y="194.10" width="1.7" height="1.7" fill="#f03232"/>
<rect x="429.62" y="193.89" width="1.7" height="1.7" fill="#f03232"/>
<rect x="430.37" y="193.68" width="1.7" height="1.7" fill="#f03232"/>
<rect x="431.11" y="193.47" width="1.7" height="1.7" fill="#f03232"/>
<rect x="431.84" y="193.27" width="1.7" height="1.7" fill="#f03232"/>
<rect x="432.56" y="193.08" width="1.7" height="1.7" fill="#f03232"/>
<rect x="433.26" y="192.88" width="1.7" height="1.7" fill="#f03232"/>
<rect x="433.94" y="192.69" width="1.7" height="1.7" fill="#f03232"/>
<rect x="434.62" y="192.51" width="1.7" height="1.7" fill="#f03232"/>
<rect x="435.28" y="192.32" width="1.7" height="1.7" fill="#f03232"/>
<rect x="435.94" y="192.12" width="1.7" height="1.7" fill="#f03232"/>
<rect x="436.58" y="191.90" width="1.7" height="1.7" fill="#f03232"/>
<rect x="437.21" y="191.69" width="1.7" height="1.7" fill="#f03232"/>
<rect x="437.83" y="191.47" width="1.7" height="1.7" fill="#f03232"/>
<rect x="438.44" y="191.27" width="1.7" height="1.7" fill="#f03232"/>
<rect x="439.05" y="191.06" width="1.7" height="1.7" fill="#f03232"/>
<rect x="439.64" y="190.86" width="1.7" height="1.7" fill="#f03232"/>
<rect x="440.22" y="190.66" width="1.7" height="1.7" fill="#f03232"/>
<rect x="440.80" y="190.47" width="1.7" height="1.7" fill="#f03232"/>
<rect x="441.36" y="190.27" width="1.7" height="1.7" fill="#f03232"/>
<rect x="441.92" y="190.08" width="1.7" height="1.7" fill="#f03232"/>
<rect x="442.47" y="189.90" width="1.7" height="1.7" fill="#f03232"/>
<rect x="443.01" y="189.71" width="1.7" height="1.7" fill="#f03232"/>
<rect x="443.54" y="189.53" width="1.7" height="1.7" fill="#f03232"/>
<rect x="444.07" y="189.35" width="1.7" height="1.7" fill="#f03232"/>
<rect x="444.59" y="189.18" width="1.7" height="1.7" fill="#f03232"/>
<rect x="445.10" y="189.00" width="1.7" height="1.7" fill="#f03232"/>
<rect x="445.61" y="188.84" width="1.7" height="1.7" fill="#f03232"/>
<rect x="446.11" y="188.73" width="1.7" height="1.7" fill="#f03232"/>
<rect x="446.60" y="188.62" width="1.7" height="1.7" fill="#f03232"/>
<rect x="447.09" y="188.51" width="1.7" height="1.7" fill="#f03232"/>
<rect x="447.57" y="188.41" width="1.7" height="1.7" fill="#f03232"/>
<rect x="448.04" y="188.30" width="1.7" height="1.7" fill="#f03232"/>
<rect x="448.51" y="188.20" width="1.7" height="1.7" fill="#f03232"/>
<rect x="448.98" y="188.10" width="1.7" height="1.7" fill="#f03232"/>
<rect x="449.43" y="188.00" width="1.7" height="1.7" fill="#f03232"/>
<rect x="449.89" y="187.90" width="1.7" height="1.7" fill="#f03232"/>
<rect x="450.33" y="187.80" width="1.7" height="1.7" fill="#f03232"/>
<rect x="450.77" y="187.75" width="1.7" height="1.7" fill="#f03232"/>
<rect x="451.21" y="187.76" width="1.7" height="1.7" fill="#f03232"/>
<rect x="451.64" y="187.77" width="1.7" height="1.7" fill="#f03232"/>
<rect x="452.07" y="187.78" width="1.7" height="1.7" fill="#f03232"/>
<rect x="452.49" y="187.79" width="1.7" height="1.7" fill="#f03232"/>
<rect x="452.91" y="187.80" width="1.7" height="1.7" fill="#f03232"/>
<rect x="453.32" y="187.81" width="1.7" height="1.7" fill="#f03232"/>
<rect x="453.73" y="187.82" width="1.7" height="1.7" fill="#f03232"/>
<rect x="454.13" y="187.83" width="1.7" height="1.7" fill="#f03232"/>
<rect x="454.53" y="187.84" width="1.7" height="1.7" fill="#f03232"/>
<rect x="454.93" y="187.85" width="1.7" height="1.7" fill="#f03232"/>
<rect x="455.32" y="187.87" width="1.7" height="1.7" fill="#f03232"/>
<rect x="455.71" y="187.92" width="1.7" height="1.7" fill="#f03232"/>
<rect x="456.09" y="187.97" width="1.7" height="1.7" fill="#f03232"/>
<rect x="456.47" y="188.02" width="1.7" height="1.7" fill="#f03232"/>
<rect x="456.85" y="188.07" width="1.7" height="1.7" fill="#f03232"/>
<rect x="457.22" y="188.12" width="1.7" height="1.7" fill="#f03232"/>
<rect x="457.59" y="188.17" width="1.7" height="1.7" fill="#f03232"/>
<rect x="457.96" y="188.22" width="1.7" height="1.7" fill="#f03232"/>
<rect x="458.32" y="188.27" width="1.7" height="1.7" fill="#f03232"/>
<rect x="458.68" y="188.32" width="1.7" height="1.7" fill="#f03232"/>
<rect x="459.03" y="188.36" width="1.7" height="1.7" fill="#f03232"/>
<rect x="459.39" y="188.41" width="1.7" height="1.7" fill="#f03232"/>
<rect x="459.73" y="188.46" width="1.7" height="1.7" fill="#f03232"/>
<rect x="460.08" y="188.50" width="1.7" height="1.7" fill="#f03232"/>
<rect x="460.42" y="188.55" width="1.7" height="1.7" fill="#f03232"/>
<rect x="460.76" y="188.55" width="1.7" height="1.7" fill="#f03232"/>
<rect x="461.10" y="188.55" width="1.7" height="1.7" fill="#f03232"/>
<rect x="461.43" y="188.55" width="1.7" height="1.7" fill="#f03232"/>
<rect x="461.76" y="188.55" width="1.7" height="1.7" fill="#f03232"/>
<rect x="462.09" y="188.55" width="1.7" height="1.7" fill="#f03232"/>
<rect x="462.42" y="188.55" width="1.7" height="1.7" fill="#f03232"/>
<rect x="462.74" y="188.55" width="1.7" height="1.7" fill="#f03232"/>
<rect x="463.06" y="188.55" width="1.7" height="1.7" fill="#f03232"/>
<rect x="463.38" y="188.55" width="1.7" height="1.7" fill="#f03232"/>
<rect x="463.69" y="188.55" width="1.7" height="1.7" fill="#f03232"/>
<rect x="464.00" y="188.55" width="1.7" height="1.7" fill="#f03232"/>
<rect x="464.31" y="188.55" width="1.7" height="1.7" fill="#f03232"/>
<rect x="464.62" y="188.55" width="1.7" height="1.7" fill="#f03232"/>
<rect x="464.92" y="188.55" width="1.7" height="1.7" fill="#f03232"/>
<rect x="465.22" y="188.55" width="1.7" height="1.7" fill="#f03232"/>
<rect x="465.52" y="188.55" width="1.7" height="1.7" fill="#f03232"/>
<rect x="465.82" y="188.55" width="1.7" height="1.7" fill="#f03232"/>
<rect x="466.12" y="188.55" width="1.7" height="1.7" fill="#f03232"/>
<rect x="466.41" y="188.55" width="1.7" height="1.7" fill="#f03232"/>
<rect x="466.70" y="188.55" width="1.7" height="1.7" fill="#f03232"/>
<rect x="466.99" y="188.55" width="1.7" height="1.7" fill="#f03232"/>
<rect x="467.27" y="188.55" width="1.7" height="1.7" fill="#f03232"/>
<rect x="467.56" y="188.55" width="1.7" height="1.7" fill="#f03232"/>
<rect x="467.84" y="188.55" width="1.7" height="1.7" fill="#f03232"/>
<rect x="468.12" y="188.55" width="1.7" height="1.7" fill="#f03232"/>
<rect x="468.40" y="188.55" width="1.7" height="1.7" fill="#f03232"/>
<rect x="468.67" y="188.55" width="1.7" height="1.7" fill="#f03232"/>
<rect x="468.95" y="188.55" width="1.7" height="1.7" fill="#f03232"/>
<rect x="469.22" y="188.55" width="1.7" height="1.7" fill="#f03232"/>
<rect x="469.49" y="188.55" width="1.7" height="1.7" fill="#f03232"/>
<rect x="469.76" y="188.55" width="1.7" height="1.7" fill="#f03232"/>
<rect x="470.02" y="188.55" width="1.7" height="1.7" fill="#f03232"/>
<rect x="470.29" y="188.55" width="1.7" height="1.7" fill="#f03232"/>
<rect x="470.55" y="188.55" width="1.7" height="1.7" fill="#f03232"/>
<rect x="470.81" y="188.55" width="1.7" height="1.7" fill="#f03232"/>
<rect x="471.07" y="188.55" width="1.7" height="1.7" fill="#f03232"/>
<rect x="471.33" y="188.55" width="1.7" height="1.7" fill="#f03232"/>
<rect x="471.58" y="188.55" width="1.7" height="1.7" fill="#f03232"/>
<rect x="471.84" y="188.55" width="1.7" height="1.7" fill="#f03232"/>
<rect x="472.09" y="188.55" width="1.7" height="1.7" fill="#f03232"/>
<rect x="472.34" y="188.55" width="1.7" height="1.7" fill="#f03232"/>
<rect x="472.59" y="188.55" width="1.7" height="1.7" fill="#f03232"/>
<rect x="472.83" y="188.55" width="1.7" height="1.7" fill="#f03232"/>
<rect x="473.08" y="188.55" width="1.7" height="1.7" fill="#f03232"/>
<rect x="473.32" y="188.55" width="1.7" height="1.7" fill="#f03232"/>
<rect x="473.57" y="188.55" width="1.7" height="1.7" fill="#f03232"/>
<rect x="473.81" y="188.55" width="1.7" height="1.7" fill="#f03232"/>
<rect x="474.05" y="188.55" width="1.7" height="1.7" fill="#f03232"/>
<rect x="474.29" y="188.55" width="1.7" height="1.7" fill="#f03232"/>
<rect x="474.52" y="188.55" width="1.7" height="1.7" fill="#f03232"/>
<rect x="474.76" y="188.55" width="1.7" height="1.7" fill="#f03232"/>
<rect x="474.99" y="188.55" width="1.7" height="1.7" fill="#f03232"/>
<rect x="475.22" y="188.55" width="1.7" height="1.7" fill="#f03232"/>
<rect x="475.45" y="188.55" width="1.7" height="1.7" fill="#f03232"/>
<rect x="475.68" y="188.55" width="1.7" height="1.7" fill="#f03232"/>
<rect x="475.91" y="188.55" width="1.7" height="1.7" fill="#f03232"/>
<rect x="476.14" y="188.55" width="1.7" height="1.7" fill="#f03232"/>
<rect x="476.36" y="188.55" width="1.7" height="1.7" fill="#f03232"/>
<rect x="476.59" y="188.55" width="1.7" height="1.7" fill="#f03232"/>
<rect x="476.81" y="188.55" width="1.7" height="1.7" fill="#f03232"/>
<rect x="477.03" y="188.55" width="1.7" height="1.7" fill="#f03232"/>
<rect x="477.25" y="188.55" width="1.7" height="1.7" fill="#f03232"/>
<rect x="477.47" y="188.55" width="1.7" height="1.7" fill="#f03232"/>
<rect x="477.69" y="188.55" width="1.7" height="1.7" fill="#f03232"/>
<rect x="477.90" y="188.55" width="1.7" height="1.7" fill="#f03232"/>
<rect x="478.12" y="188.55" width="1.7" height="1.7" fill="#f03232"/>
<rect x="478.33" y="188.55" width="1.7" height="1.7" fill="#f03232"/>
<rect x="478.55" y="188.55" width="1.7" height="1.7" fill="#f03232"/>
<rect x="478.76" y="188.55" width="1.7" height="1.7" fill="#f03232"/>
<rect x="478.97" y="188.55" width="1.7" height="1.7" fill="#f03232"/>
<rect x="479.18" y="188.55" width="1.7" height="1.7" fill="#f03232"/>
<rect x="479.39" y="188.55" width="1.7" height="1.7" fill="#f03232"/>
<rect x="479.59" y="188.55" width="1.7" height="1.7" fill="#f03232"/>
<rect x="479.80" y="188.55" width="1.7" height="1.7" fill="#f03232"/>
<rect x="480.00" y="188.55" width="1.7" height="1.7" fill="#f03232"/>
<rect x="480.21" y="188.55" width="1.7" height="1.7" fill="#f03232"/>
<rect x="480.41" y="188.55" width="1.7" height="1.7" fill="#f03232"/>
<rect x="480.61" y="188.55" width="1.7" height="1.7" fill="#f03232"/>
<rect x="480.81" y="188.55" width="1.7" height="1.7" fill="#f03232"/>
<rect x="481.01" y="188.55" width="1.7" height="1.7" fill="#f03232"/>
<rect x="481.21" y="188.55" width="1.7" height="1.7" fill="#f03232"/>
<rect x="481.41" y="188.55" width="1.7" height="1.7" fill="#f03232"/>
<rect x="481.60" y="188.55" width="1.7" height="1.7" fill="#f03232"/>
<rect x="481.80" y="188.55" width="1.7" height="1.7" fill="#f03232"/>
<rect x="481.99" y="188.55" width="1.7" height="1.7" fill="#f03232"/>
<rect x="482.19" y="188.55" width="1.7" height="1.7" fill="#f03232"/>
<rect x="482.38" y="188.55" width="1.7" height="1.7" fill="#f03232"/>
<rect x="482.57" y="188.55" width="1.7" height="1.7" fill="#f03232"/>
<line x1="539" y1="29.3" x2="539" y2="147.3" stroke="#000" stroke-width="2"/>
<line x1="538" y1="146.3" x2="722.5" y2="146.3" stroke="#000" stroke-width="2"/>
<line x1="533" y1="30.2" x2="539" y2="30.2" stroke="#000" stroke-width="1.8"/>
<text x="531.6" y="33.9" font-family="Liberation Sans, sans-serif" font-size="9" font-weight="bold" text-anchor="end" fill="#111">2.0</text>
<line x1="533" y1="53.4" x2="539" y2="53.4" stroke="#000" stroke-width="1.8"/>
<text x="531.6" y="57.1" font-family="Liberation Sans, sans-serif" font-size="9" font-weight="bold" text-anchor="end" fill="#111">1.5</text>
<line x1="533" y1="76.5" x2="539" y2="76.5" stroke="#000" stroke-width="1.8"/>
<text x="531.6" y="80.2" font-family="Liberation Sans, sans-serif" font-size="9" font-weight="bold" text-anchor="end" fill="#111">1.0</text>
<line x1="533" y1="99.7" x2="539" y2="99.7" stroke="#000" stroke-width="1.8"/>
<text x="531.6" y="103.4" font-family="Liberation Sans, sans-serif" font-size="9" font-weight="bold" text-anchor="end" fill="#111">0.5</text>
<line x1="533" y1="122.8" x2="539" y2="122.8" stroke="#000" stroke-width="1.8"/>
<text x="531.6" y="126.5" font-family="Liberation Sans, sans-serif" font-size="9" font-weight="bold" text-anchor="end" fill="#111">0.0</text>
<line x1="533" y1="145.9" x2="539" y2="145.9" stroke="#000" stroke-width="1.8"/>
<text x="531.6" y="149.6" font-family="Liberation Sans, sans-serif" font-size="9" font-weight="bold" text-anchor="end" fill="#111">-0.5</text>
<rect x="550.90" y="74.14" width="20.90" height="48.66" fill="#3587cc" stroke="#000" stroke-width="1.6"/>
<line x1="561.4" y1="146.3" x2="561.4" y2="151.8" stroke="#000" stroke-width="1.8"/>
<text transform="translate(563.5 160.5) rotate(-45)" font-family="Liberation Sans, sans-serif" font-size="8.75" font-weight="bold" text-anchor="end" fill="#111">M157T4_2</text>
<text transform="translate(574.00 53.70) rotate(-45)" font-family="Liberation Sans, sans-serif" font-size="9" text-anchor="middle" fill="#111" stroke="#111" stroke-width="0.5">1.0681569</text>
<rect x="585.35" y="45.37" width="20.90" height="77.43" fill="#3587cc" stroke="#000" stroke-width="1.6"/>
<line x1="595.8" y1="146.3" x2="595.8" y2="151.8" stroke="#000" stroke-width="1.8"/>
<text transform="translate(597.9 160.5) rotate(-45)" font-family="Liberation Sans, sans-serif" font-size="8.75" font-weight="bold" text-anchor="end" fill="#111">M159T11_1</text>
<text transform="translate(608.80 23.70) rotate(-45)" font-family="Liberation Sans, sans-serif" font-size="9" text-anchor="middle" fill="#111" stroke="#111" stroke-width="0.5">1.6896978</text>
<rect x="619.80" y="116.72" width="20.90" height="6.08" fill="#3587cc" stroke="#000" stroke-width="1.6"/>
<line x1="630.2" y1="146.3" x2="630.2" y2="151.8" stroke="#000" stroke-width="1.8"/>
<text transform="translate(632.3 160.5) rotate(-45)" font-family="Liberation Sans, sans-serif" font-size="8.75" font-weight="bold" text-anchor="end" fill="#111">M279T2_3</text>
<text transform="translate(643.95 95.70) rotate(-45)" font-family="Liberation Sans, sans-serif" font-size="9" text-anchor="middle" fill="#111" stroke="#111" stroke-width="0.5">0.1484959</text>
<rect x="654.25" y="122.80" width="20.90" height="8.70" fill="#3587cc" stroke="#000" stroke-width="1.6"/>
<line x1="664.6" y1="146.3" x2="664.6" y2="151.8" stroke="#000" stroke-width="1.8"/>
<text transform="translate(666.7 160.5) rotate(-45)" font-family="Liberation Sans, sans-serif" font-size="8.75" font-weight="bold" text-anchor="end" fill="#111">M241T3_2</text>
<text transform="translate(681.30 98.00) rotate(-45)" font-family="Liberation Sans, sans-serif" font-size="9" text-anchor="middle" fill="#111" stroke="#111" stroke-width="0.5">-0.2051176</text>
<rect x="688.70" y="105.73" width="20.90" height="17.07" fill="#3587cc" stroke="#000" stroke-width="1.6"/>
<line x1="699.0" y1="146.3" x2="699.0" y2="151.8" stroke="#000" stroke-width="1.8"/>
<text transform="translate(701.1 160.5) rotate(-45)" font-family="Liberation Sans, sans-serif" font-size="8.75" font-weight="bold" text-anchor="end" fill="#111">M137T4_1</text>
<text transform="translate(713.95 83.70) rotate(-45)" font-family="Liberation Sans, sans-serif" font-size="9" text-anchor="middle" fill="#111" stroke="#111" stroke-width="0.5">0.3860044</text>
<line x1="539" y1="122.85" x2="722.5" y2="122.85" stroke="#000" stroke-width="1.8"/>
<text transform="translate(510.2 93.3) rotate(-90)" font-family="Liberation Sans, sans-serif" font-size="9.6" text-anchor="middle" fill="#111">coefficient value</text>
<text x="619.8" y="205.1" font-family="Liberation Sans, sans-serif" font-size="9.28" text-anchor="middle" fill="#111">metabolites with significant regression coefficients</text>
</svg>
</body></html>
